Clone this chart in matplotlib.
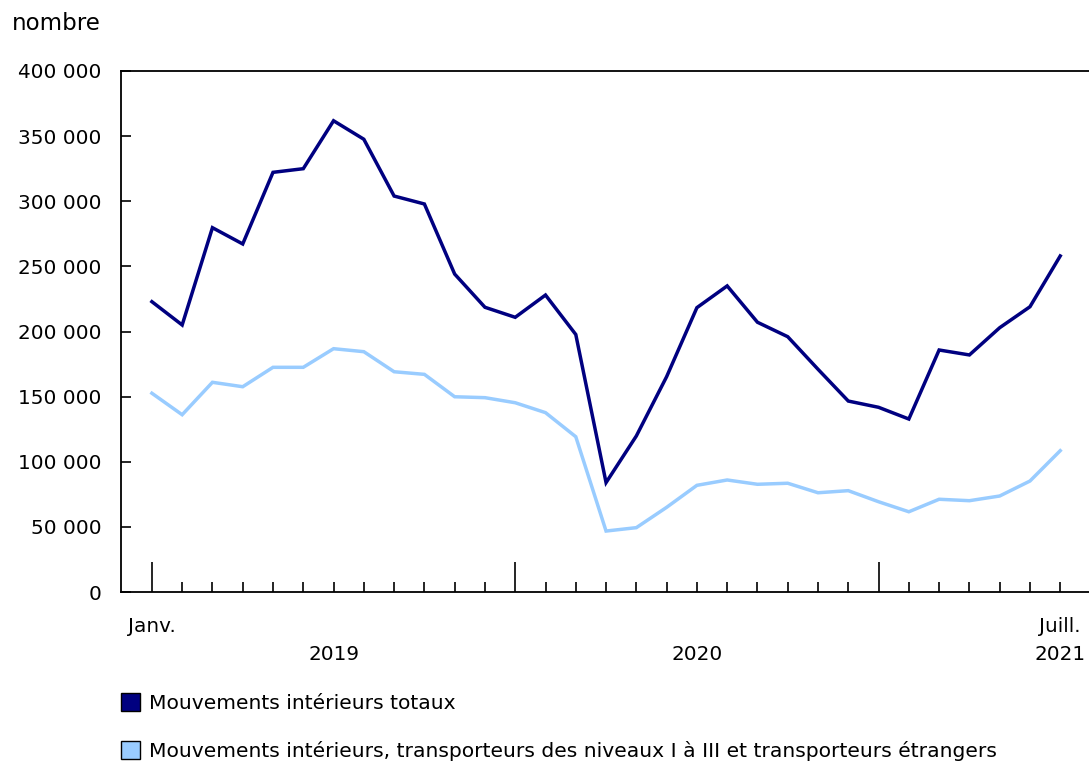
import matplotlib
matplotlib.use("Agg")
import matplotlib.pyplot as plt
from matplotlib.patches import Patch
from matplotlib.transforms import blended_transform_factory, offset_copy

plt.rcParams['font.family'] = ['DejaVu Sans']

months = list(range(31))  # Jan 2019 .. Jul 2021
total = [222900, 205000, 279700, 267200, 322200, 325000, 361800, 347600, 304000, 297900,
         244100, 218600, 210900, 228000, 197700, 84000, 119800, 165300, 218300, 235000,
         207100, 196000, 171000, 146600, 141800, 132800, 185800, 182000, 202900, 219000,
         258000]
levels = [152600, 136100, 161000, 157600, 172500, 172500, 186800, 184500, 169100, 167100,
          149900, 149200, 145300, 137700, 119200, 46800, 49400, 65000, 81900, 86000,
          82700, 83500, 76200, 77800, 69300, 61600, 71200, 70100, 73700, 85200,
          108500]
yticks = [0, 50000, 100000, 150000, 200000, 250000, 300000, 350000, 400000]
ytick_labels = ["0", "50 000", "100 000", "150 000", "200 000", "250 000", "300 000", "350 000", "400 000"]
month_labels = [(0, "Janv."), (30, "Juill.")]
year_labels = [(6, "2019"), (18, "2020"), (30, "2021")]
series_names = ["Mouvements intérieurs totaux",
                "Mouvements intérieurs, transporteurs des niveaux I à III et transporteurs étrangers"]
colors = ["#000080", "#99CCFF"]

fig = plt.figure(figsize=(10.89, 7.64), dpi=100)
ax = fig.add_axes([121/1089, 172/764, 1 - 121/1089, (592-71)/764])

ax.plot(months, total, color=colors[0], lw=2.5, solid_joinstyle='miter')
ax.plot(months, levels, color=colors[1], lw=2.5, solid_joinstyle='miter')

ax.set_xlim(-1.02, 30.95)
ax.set_ylim(0, 400000)
ax.set_yticks(yticks)
ax.set_yticklabels(ytick_labels, fontsize=14.4)
ax.tick_params(axis='y', direction='in', length=7, width=1.2, pad=14)

ax.set_xticks([0, 12, 24])
ax.set_xticks(months, minor=True)
ax.set_xticklabels([])
ax.tick_params(axis='x', which='major', direction='in', length=21.5, width=1.2)
ax.tick_params(axis='x', which='minor', direction='in', length=7, width=1.2)

for s in ['left', 'bottom', 'top']:
    ax.spines[s].set_linewidth(1.3)
ax.spines['right'].set_visible(False)

trans = blended_transform_factory(ax.transData, ax.transAxes)
for x, lab in month_labels:
    ax.text(x, 0, lab, transform=offset_copy(trans, fig=fig, y=-34, units='dots'),
            ha='center', va='center', fontsize=14.4)
for x, lab in year_labels:
    ax.text(x, 0, lab, transform=offset_copy(trans, fig=fig, y=-63, units='dots'),
            ha='center', va='center', fontsize=14.4)

fig.text(12/1089, 1 - 24/764, "nombre", fontsize=16.5, ha='left', va='center')

handles = [Patch(facecolor=c, edgecolor='black', linewidth=1.0) for c in colors]
fig.legend(handles, series_names, loc='upper left', bbox_to_anchor=(115/1089, 1 - 687/764),
           frameon=False, fontsize=14.6, handlelength=0.95, handleheight=0.95,
           handletextpad=0.45, labelspacing=1.4, borderaxespad=0, borderpad=0.3)

fig.savefig("out.png", dpi=100)
